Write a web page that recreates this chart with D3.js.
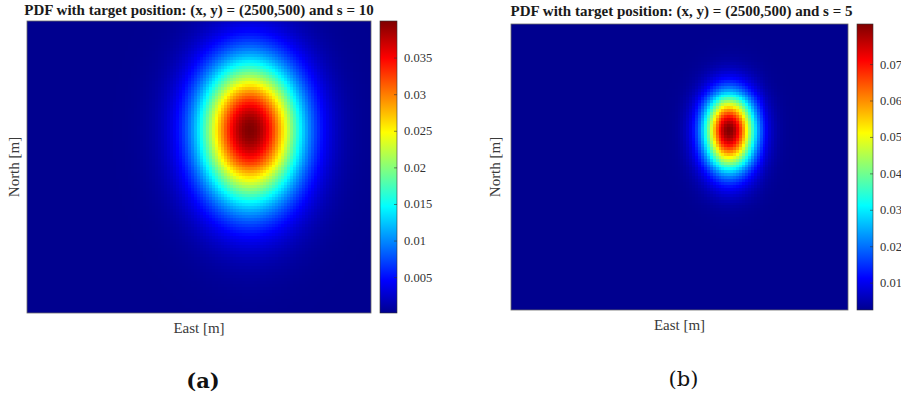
<!DOCTYPE html>
<html>
<head>
<meta charset="utf-8">
<script src="https://cdn.jsdelivr.net/npm/d3@7"></script>
<style>
  html, body { margin: 0; padding: 0; background: #fff; }
  svg { display: block; }
  text { font-family: "Liberation Serif", "Times New Roman", serif; }
</style>
</head>
<body>
<svg id="fig" width="901" height="400"></svg>
<script>
// ---- data -------------------------------------------------------------
const panelTags   = ["(a)", "(b)"];
const spreadS     = [10, 5];                 // spread parameter s for each panel
const targetEast  = 2500;                    // target position (x, y)
const targetNorth = 500;
const eastRange   = [0, 3850];               // grid extent [m]
const northRange  = [-350, 1000];
const peakPdf     = [0.0400, 0.0810];        // PDF maximum (top of colour bar)
const floorPdf    = [0.0001, 0.0025];        // PDF minimum (bottom of colour bar)
const sigmaEast   = [392, 200];              // spread east-west [m]
const sigmaNorthUp   = [217, 118];           // spread north of target [m]
const sigmaNorthDown = [236, 130];           // spread south of target [m]
const colorbarTicks = [
  [0.005, 0.01, 0.015, 0.02, 0.025, 0.03, 0.035],
  [0.01, 0.02, 0.03, 0.04, 0.05, 0.06, 0.07]
];
const colorbarTickLabels = [
  ["0.005", "0.01", "0.015", "0.02", "0.025", "0.03", "0.035"],
  ["0.01", "0.02", "0.03", "0.04", "0.05", "0.06", "0.07"]
];

// ---- layout -----------------------------------------------------------
const layout = [
  { plot: { x0: 27,  x1: 371, y0: 21, y1: 313 }, cb: { x0: 380, x1: 397 },
    titleY: 15, eastY: 333, northX: 19, tagY: 388, tagWeight: "bold" },
  { plot: { x0: 511, x1: 848, y0: 24, y1: 310 }, cb: { x0: 857, x1: 873 },
    titleY: 16, eastY: 330, northX: 500, tagY: 386, tagWeight: "normal" }
];

// MATLAB-style 64-entry jet colormap
function jet64() {
  const m = 64, n = Math.ceil(m / 4);
  const u = [];
  for (let i = 1; i <= n; i++) u.push(i / n);
  for (let i = 1; i < n; i++) u.push(1);
  for (let i = n; i >= 1; i--) u.push(i / n);
  const g0 = Math.ceil(n / 2) - (m % 4 === 1 ? 1 : 0);
  const r = new Array(m).fill(0), g = new Array(m).fill(0), b = new Array(m).fill(0);
  u.forEach((v, k) => {
    const gi = g0 + k + 1, ri = gi + n, bi = gi - n;
    if (gi >= 1 && gi <= m) g[gi - 1] = v;
    if (ri >= 1 && ri <= m) r[ri - 1] = v;
    if (bi >= 1 && bi <= m) b[bi - 1] = v;
  });
  return d3.range(m).map(i => d3.rgb(r[i] * 255, g[i] * 255, b[i] * 255).formatHex());
}
const jetColors = jet64();
const jetInterp = d3.piecewise(d3.interpolateRgb, jetColors);

const svg = d3.select("#fig");
svg.append("rect").attr("width", 901).attr("height", 400).attr("fill", "#fff");

const NX = 115, NY = 98;

panelTags.forEach((tag, p) => {
  const L = layout[p];
  const x = d3.scaleLinear().domain(eastRange).range([L.plot.x0, L.plot.x1]);
  const y = d3.scaleLinear().domain(northRange).range([L.plot.y1, L.plot.y0]);
  const color = d3.scaleSequential(jetInterp).domain([floorPdf[p], peakPdf[p]]).clamp(true);

  // PDF on a regular grid
  const dx = (eastRange[1] - eastRange[0]) / NX;
  const dy = (northRange[1] - northRange[0]) / NY;
  const cells = [];
  for (let j = 0; j < NY; j++) {
    for (let i = 0; i < NX; i++) {
      const e = eastRange[0] + (i + 0.5) * dx;
      const nn = northRange[0] + (j + 0.5) * dy;
      const sn = nn >= targetNorth ? sigmaNorthUp[p] : sigmaNorthDown[p];
      const q = ((e - targetEast) / sigmaEast[p]) ** 2 + ((nn - targetNorth) / sn) ** 2;
      const v = floorPdf[p] + (peakPdf[p] - floorPdf[p]) * Math.exp(-0.5 * q);
      cells.push({ e0: e - dx / 2, e1: e + dx / 2, n0: nn - dy / 2, n1: nn + dy / 2, v });
    }
  }

  const g = svg.append("g");
  g.append("g").attr("shape-rendering", "crispEdges")
    .selectAll("rect").data(cells).join("rect")
    .attr("x", d => Math.floor(x(d.e0)))
    .attr("y", d => Math.floor(y(d.n1)))
    .attr("width", d => Math.ceil(x(d.e1)) - Math.floor(x(d.e0)))
    .attr("height", d => Math.ceil(y(d.n0)) - Math.floor(y(d.n1)))
    .attr("fill", d => color(d.v));

  // axes box
  g.append("rect")
    .attr("x", L.plot.x0).attr("y", L.plot.y0)
    .attr("width", L.plot.x1 - L.plot.x0).attr("height", L.plot.y1 - L.plot.y0)
    .attr("fill", "none").attr("stroke", "#6a6a6a").attr("stroke-width", 0.8);

  // colour bar
  const cbScale = d3.scaleLinear().domain([floorPdf[p], peakPdf[p]]).range([L.plot.y1, L.plot.y0]);
  const gradId = "jetgrad" + p;
  const grad = svg.append("defs").append("linearGradient")
    .attr("id", gradId).attr("x1", 0).attr("y1", 1).attr("x2", 0).attr("y2", 0);
  jetColors.forEach((c, i) => {
    grad.append("stop").attr("offset", i / (jetColors.length - 1)).attr("stop-color", c);
  });
  g.append("rect")
    .attr("x", L.cb.x0).attr("y", L.plot.y0)
    .attr("width", L.cb.x1 - L.cb.x0).attr("height", L.plot.y1 - L.plot.y0)
    .attr("fill", `url(#${gradId})`)
    .attr("stroke", "#333").attr("stroke-width", 0.6);

  const axis = d3.axisRight(cbScale)
    .tickValues(colorbarTicks[p])
    .tickFormat((d, i) => colorbarTickLabels[p][i])
    .tickSizeInner(-3).tickSizeOuter(0).tickPadding(7);
  const ag = g.append("g").attr("transform", `translate(${L.cb.x1},0)`).call(axis);
  ag.select(".domain").remove();
  ag.selectAll(".tick line").attr("stroke", "#333").attr("stroke-width", 0.6);
  ag.selectAll(".tick text")
    .attr("font-family", "Liberation Serif, serif")
    .attr("font-size", 12.5).attr("fill", "#333");

  // title and axis labels
  const cx = (L.plot.x0 + L.plot.x1) / 2;
  g.append("text")
    .attr("x", cx + (p === 1 ? 2 : 0)).attr("y", L.titleY)
    .attr("text-anchor", "middle")
    .attr("font-size", 15).attr("font-weight", "bold").attr("fill", "#1a1a1a")
    .text(`PDF with target position: (x, y) = (${targetEast},${targetNorth}) and s = ${spreadS[p]}`);

  g.append("text")
    .attr("x", cx).attr("y", L.eastY)
    .attr("text-anchor", "middle")
    .attr("font-size", 15).attr("fill", "#3a3a3a")
    .text("East [m]");

  g.append("text")
    .attr("transform", `translate(${L.northX},${(L.plot.y0 + L.plot.y1) / 2}) rotate(-90)`)
    .attr("text-anchor", "middle")
    .attr("font-size", 15).attr("fill", "#3a3a3a")
    .text("North [m]");

  g.append("text")
    .attr("x", cx + 4).attr("y", L.tagY)
    .attr("text-anchor", "middle")
    .attr("font-size", 21).attr("font-weight", L.tagWeight).attr("fill", "#111")
    .style("font-family", "'DejaVu Serif', serif")
    .text(tag);
});
</script>
</body>
</html>
